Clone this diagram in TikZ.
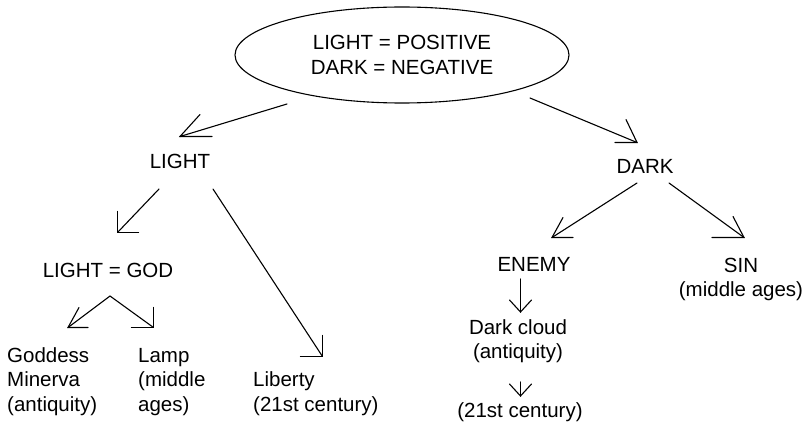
\documentclass[tikz,border=0pt]{standalone}
\usepackage{fontspec}
\setmainfont{Liberation Sans}
\usetikzlibrary{shapes.geometric}
\begin{document}
\begin{tikzpicture}[x=1pt,y=-1pt,
  lbl/.style={inner sep=0pt, font=\fontsize{20.5}{24.5}\selectfont},
  conn/.style={line width=1.1pt, line cap=round, line join=miter}]
\useasboundingbox (0,0) rectangle (810,425);

% root ellipse
\node[lbl, draw, ellipse, line width=1.1pt, minimum width=334pt,
      minimum height=96pt, align=center] (root) at (402,55)
      {LIGHT = POSITIVE\\DARK = NEGATIVE};

% labels (multi-line labels are placed by the baseline of their last line)
\node[lbl, anchor=base] (light) at (180,168) {LIGHT};
\node[lbl, anchor=base] (dark) at (645,173) {DARK};
\node[lbl, anchor=base] (god) at (108,277) {LIGHT = GOD};
\node[lbl, anchor=base west, align=left] (minerva) at (7,411) {Goddess\\Minerva\\(antiquity)};
\node[lbl, anchor=base west, align=left] (lamp) at (138,411) {Lamp\\(middle\\ages)};
\node[lbl, anchor=base west, align=left] (liberty) at (253,411) {Liberty\\(21st century)};
\node[lbl, anchor=base] (enemy) at (534,271) {ENEMY};
\node[lbl, anchor=base, align=center] (sin) at (741,296.5) {SIN\\(middle ages)};
\node[lbl, anchor=base, align=center] (cloud) at (518,358.5) {Dark cloud\\(antiquity)};
\node[lbl, anchor=base] (modern) at (520,417) {(21st century)};

% connector ends
\coordinate (s1) at (287,104); \coordinate (t1) at (180,136.5);
\coordinate (s2) at (530,98);  \coordinate (t2) at (637,142.5);
\coordinate (s3) at (159,189); \coordinate (t3) at (117.5,232.5);
\coordinate (s4) at (213,189); \coordinate (t4) at (322.5,356.5);
\coordinate (apex) at (110,296);
\coordinate (t5) at (68,327.5);  \coordinate (t6) at (153.5,327.5);
\coordinate (s7) at (637,183); \coordinate (t7) at (552,237.5);
\coordinate (s8) at (669,183); \coordinate (t8) at (744,237.5);
\coordinate (s9) at (520.5,279); \coordinate (t9) at (520.5,312);
\coordinate (s10) at (520.5,382); \coordinate (t10) at (520.5,396);

% shafts
\draw[conn] (s1) -- (t1);
\draw[conn] (s2) -- (t2);
\draw[conn] (s3) -- (t3);
\draw[conn] (s4) -- (t4);
\draw[conn] (t5) -- (apex) -- (t6);
\draw[conn] (s7) -- (t7);
\draw[conn] (s8) -- (t8);
\draw[conn] (s9) -- (t9);
\draw[conn] (s10) -- (t10);

% open arrowheads
\draw[conn] (t1) ++(32,0) -- (t1) -- ++(20,-22);
\draw[conn] (t2) ++(-22,0) -- (t2) -- ++(-11,-23);
\draw[conn] (t3) ++(21,0) -- (t3) -- ++(0,-21);
\draw[conn] (t4) ++(-22,0) -- (t4) -- ++(0,-21);
\draw[conn] (t5) ++(20,0) -- (t5) -- ++(11,-20);
\draw[conn] (t6) ++(-22,0) -- (t6) -- ++(0,-20);
\draw[conn] (t7) ++(21,0) -- (t7) -- ++(11,-20);
\draw[conn] (t8) ++(-32,0) -- (t8) -- ++(-11,-21);
\draw[conn] (t9) ++(-11,-12) -- (t9) -- ++(11,-12);
\draw[conn] (t10) ++(-11,-12) -- (t10) -- ++(11,-12);
\end{tikzpicture}
\end{document}
